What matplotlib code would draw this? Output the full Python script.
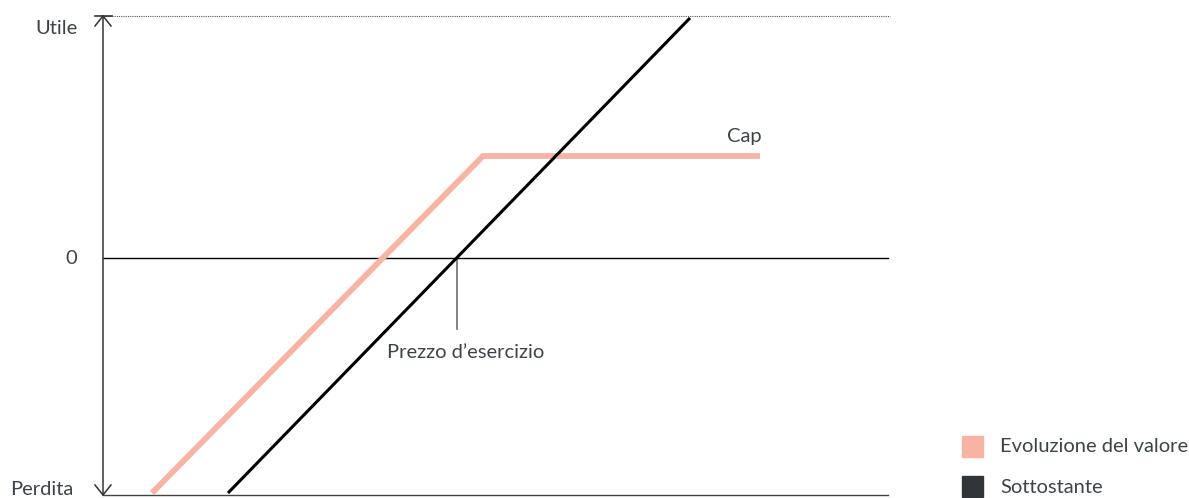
import matplotlib
matplotlib.use("Agg")
import matplotlib.pyplot as plt
from matplotlib.patches import Rectangle

plt.rcParams['font.family'] = ['Lato', 'DejaVu Sans']

# Data (payoff diagram, arbitrary units: x = underlying price, y = profit/loss)
underlying_x = [125, 587]
underlying_y = [-235, 240]
value_x = [49, 380, 657]
value_y = [-235, 102, 102]
strike = 354
strike_tick_bottom = -71
x_min, x_max = 0, 785
y_min, y_max = -237, 242

y_labels = ["Perdita", "0", "Utile"]
y_label_pos = [y_min, 0, y_max]
series_names = ["Evoluzione del valore", "Sottostante"]
pink = "#f7b4a4"
dark = "#2f3538"
text_col = "#3d4448"
FS = 14.5

fig = plt.figure(figsize=(11.89, 4.98), dpi=100)
W, H = 1189, 498
ax = fig.add_axes([103 / W, 3 / H, 785 / W, 479 / H])
ax.set_xlim(x_min, x_max)
ax.set_ylim(y_min, y_max)
ax.axis("off")

# Axes lines
ax.plot([0, 0], [y_min, y_max], color="#444444", lw=1.2, clip_on=False, zorder=3)
ax.plot([0, x_max], [0, 0], color="black", lw=1.0, clip_on=False, zorder=2)
ax.plot([0, x_max], [y_min, y_min], color="#444444", lw=1.0, clip_on=False, zorder=2)
ax.plot([0, x_max + 2], [y_max, y_max], color="#555555", lw=0.8, ls=(0, (1, 1)), clip_on=False, zorder=2)
ax.plot([-8, 9], [y_max, y_max], color="#333333", lw=1.2, clip_on=False, zorder=3)

# Arrowheads (chevrons)
ax.plot([-8, 0, 8], [y_max - 10, y_max, y_max - 10], color="#333333", lw=1.1, clip_on=False, zorder=3)
ax.plot([-8, 0, 8], [y_min + 10, y_min, y_min + 10], color="#333333", lw=1.1, clip_on=False, zorder=3)

# Series
ax.plot(value_x, value_y, color=pink, lw=4.2, solid_capstyle="butt", solid_joinstyle="miter", zorder=4, clip_on=False)
ax.plot(underlying_x, underlying_y, color="black", lw=2.2, solid_capstyle="butt", zorder=5, clip_on=False)

# Strike tick
ax.plot([strike, strike], [0, strike_tick_bottom], color="#7a7a7a", lw=1.3, zorder=3)
ax.text(strike + 9, strike_tick_bottom - 23, "Prezzo d\u2019esercizio", ha="center", va="center",
        fontsize=FS, color=text_col)
ax.text(value_x[-1] + 2, value_y[-1] + 20, "Cap", ha="right", va="center", fontsize=FS, color=text_col)

# Y labels
for lab, yp, xoff in zip(y_labels, y_label_pos, [-30, -26, -25]):
    dy = 6 if yp == y_min else (-12 if yp == y_max else 0)
    ax.text(xoff, yp + dy, lab, ha="right", va="center", fontsize=FS, color=text_col, clip_on=False)

# Legend
for i, (name, col) in enumerate(zip(series_names, [pink, dark])):
    yc = 447 + i * 40
    fig.patches.append(Rectangle((962 / W, 1 - (yc + 10) / H), 21 / W, 21 / H,
                                 transform=fig.transFigure, color=col))
    fig.text(1000 / W, 1 - yc / H, name, ha="left", va="center", fontsize=FS, color=text_col)

fig.savefig("out.png", dpi=100)
